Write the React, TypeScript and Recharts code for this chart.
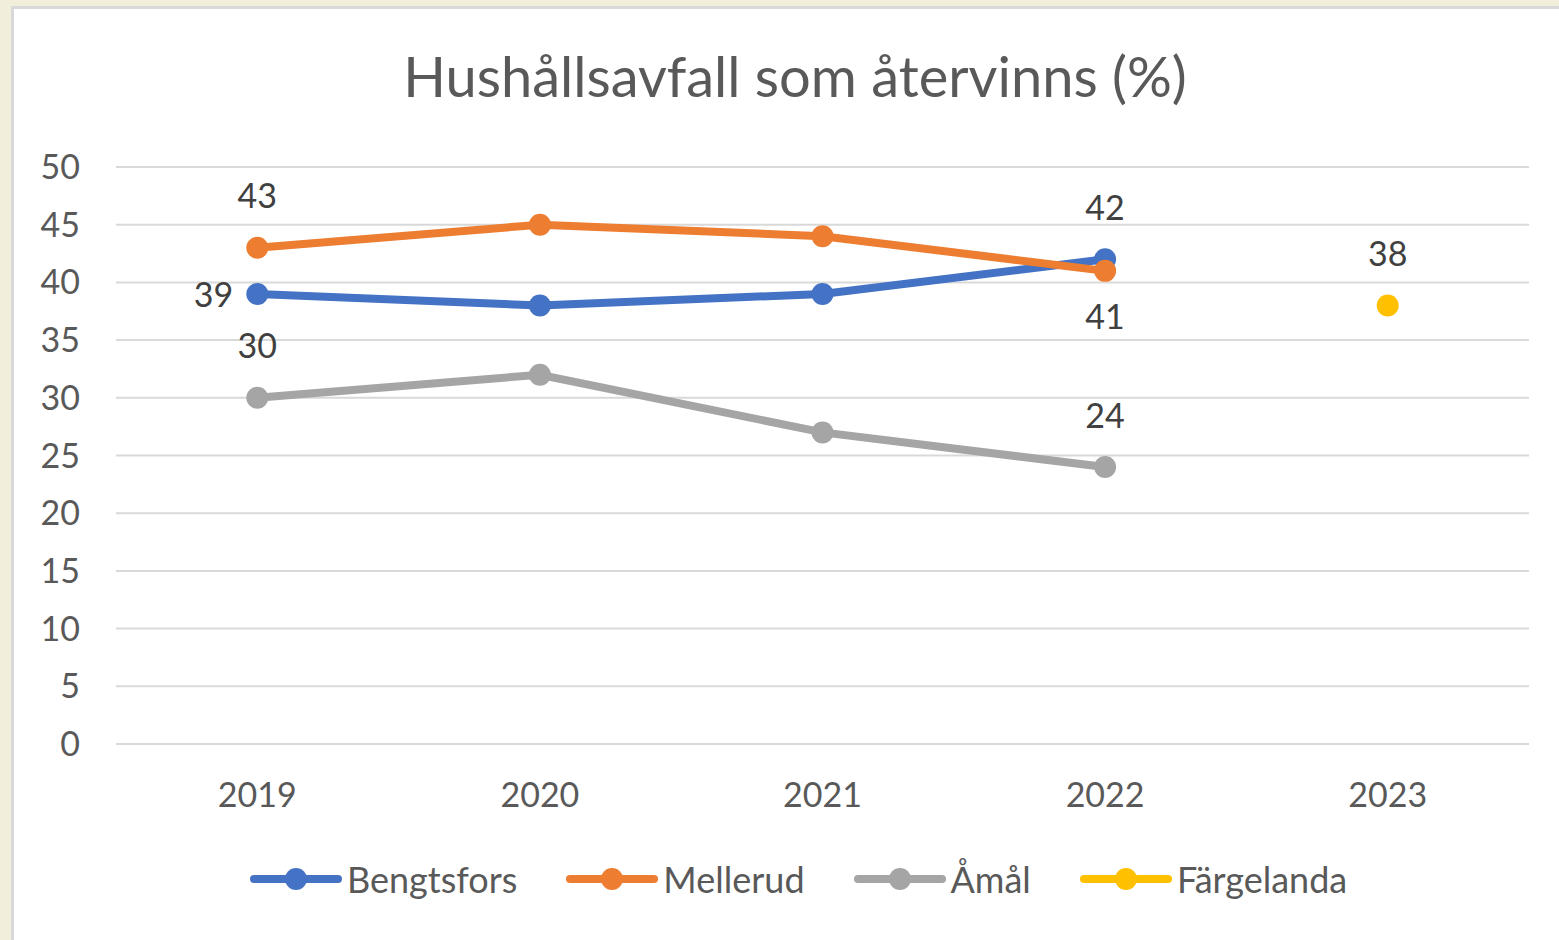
import React from "react";
import { LineChart, Line, XAxis, YAxis, CartesianGrid } from "recharts";

const years = ["2019", "2020", "2021", "2022", "2023"];
const bengtsfors = [39, 38, 39, 42, null];
const mellerud = [43, 45, 44, 41, null];
const amal = [30, 32, 27, 24, null];
const fargelanda = [null, null, null, null, 38];
const yTicks = [0, 5, 10, 15, 20, 25, 30, 35, 40, 45, 50];

const FONT = "Lato, 'Open Sans', sans-serif";

const series = [
  { key: "Bengtsfors", color: "#4472C4", values: bengtsfors, first: "left", last: "top" },
  { key: "Mellerud", color: "#ED7D31", values: mellerud, first: "top", last: "bottom" },
  { key: "Åmål", color: "#A5A5A5", values: amal, first: "top", last: "top" },
  { key: "Färgelanda", color: "#FFC000", values: fargelanda, first: "top", last: "top" },
];

const data = years.map((year, i) => {
  const row: Record<string, any> = { year };
  series.forEach((s) => { row[s.key] = s.values[i]; });
  return row;
});

function makeLabel(s: typeof series[number]) {
  const idx = s.values.map((v, i) => (v == null ? -1 : i)).filter((i) => i >= 0);
  const firstIdx = idx[0];
  const lastIdx = idx[idx.length - 1];
  return (props: any) => {
    const { x, y, value, index } = props;
    if (value == null || (index !== firstIdx && index !== lastIdx)) return <g key={`l-${s.key}-${index}`} />;
    const pos = index === firstIdx ? s.first : s.last;
    let lx = x;
    let ly = y;
    let anchor: "middle" | "end" = "middle";
    if (pos === "top") ly = y - 53;
    if (pos === "bottom") ly = y + 45;
    if (pos === "left") { lx = x - 24; anchor = "end"; }
    return (
      <text key={`l-${s.key}-${index}`} x={lx} y={ly} textAnchor={anchor} dominantBaseline="central"
        fill="#404040" fontSize={34} fontFamily={FONT}>
        {value}
      </text>
    );
  };
}

function LegendItem({ name, color }: { name: string; color: string }) {
  return (
    <div style={{ display: "flex", alignItems: "center", marginRight: 49 }}>
      <svg width={92} height={26} style={{ marginRight: 5 }}>
        <line x1={4} y1={13} x2={88} y2={13} stroke={color} strokeWidth={8} strokeLinecap="round" />
        <circle cx={46} cy={13} r={11} fill={color} />
      </svg>
      <span style={{ fontSize: 36, color: "#595959", fontFamily: FONT }}>{name}</span>
    </div>
  );
}

export default function App() {
  return (
    <div style={{ position: "absolute", left: 0, top: 0, width: 1559, height: 940, background: "#F1EEDC", overflow: "hidden" }}>
      <div style={{
        position: "absolute", left: 11, top: 6, width: 1560, height: 950,
        background: "#fff", borderLeft: "3px solid #D9D9D9", borderTop: "3px solid #D9D9D9",
      }} />
      <div style={{
        position: "absolute", left: 0, width: 1590, top: 42, textAlign: "center",
        fontSize: 56, color: "#595959", fontFamily: FONT,
      }}>
        Hushållsavfall som återvinns (%)
      </div>
      <div style={{ position: "absolute", left: 0, top: 0 }}>
        <LineChart width={1559} height={940} data={data}
          margin={{ top: 167, right: 30, bottom: 136, left: 36 }}>
          <CartesianGrid vertical={false} stroke="#D9D9D9" strokeWidth={2} />
          <XAxis dataKey="year" scale="band" axisLine={{ stroke: "#D9D9D9", strokeWidth: 2 }} tickLine={false}
            tickSize={0} tickMargin={39} height={60}
            tick={{ fill: "#595959", fontSize: 34, fontFamily: FONT }} />
          <YAxis domain={[0, 50]} ticks={yTicks} width={80} axisLine={false} tickLine={false}
            tickSize={0} tickMargin={36} interval={0}
            tick={{ fill: "#595959", fontSize: 34, fontFamily: FONT }} />
          {series.map((s) => (
            <Line key={s.key} dataKey={s.key} stroke={s.color} strokeWidth={8}
              dot={{ r: 11, fill: s.color, stroke: s.color, strokeWidth: 0 }}
              activeDot={false} isAnimationActive={false} connectNulls={false}
              label={makeLabel(s)} />
          ))}
        </LineChart>
      </div>
      <div style={{ position: "absolute", left: 250, top: 857, display: "flex" }}>
        {series.map((s) => <LegendItem key={s.key} name={s.key} color={s.color} />)}
      </div>
    </div>
  );
}
